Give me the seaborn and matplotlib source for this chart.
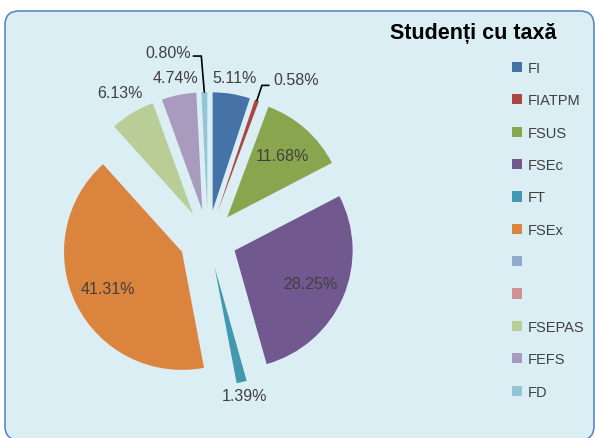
import matplotlib
matplotlib.use("Agg")
import numpy as np
import matplotlib.pyplot as plt
import seaborn as sns
from matplotlib.patches import FancyBboxPatch, Patch

title = "Studenți cu taxă"
categories = ["FI", "FIATPM", "FSUS", "FSEc", "FT", "FSEx", "", "", "FSEPAS", "FEFS", "FD"]
shares = [5.11, 0.58, 11.68, 28.25, 1.39, 41.31, 0.0, 0.0, 6.13, 4.74, 0.80]
colors = ["#4572A7", "#AA4643", "#89A54E", "#71588F", "#4198AF", "#DB843D",
          "#93A9CF", "#D19392", "#B9CD96", "#A99BBD", "#92C5D6"]

sns.set_theme(style="white")
plt.rcParams["font.family"] = ["Liberation Sans", "DejaVu Sans"]
palette = sns.color_palette(colors)

fig = plt.figure(figsize=(5.95, 4.39), dpi=100)
ax = fig.add_axes([0, 0, 1, 1])

# background panel
panel = FancyBboxPatch((5, 12), 589, 429, boxstyle="round,pad=0,rounding_size=14",
                       fc="#DBEEF4", ec="#5A8AC6", lw=1.2, zorder=0)
ax.add_patch(panel)

shown = [i for i, v in enumerate(shares) if v > 0]
vals = [shares[i] for i in shown]
cols = [palette[i] for i in shown]
names = [categories[i] for i in shown]

# pixel-like coords with y pointing down, so counterclock in data = clockwise on screen
wedges, _, autotexts = ax.pie(vals, colors=cols, explode=[29] * len(vals),
                              startangle=-90, counterclock=True, radius=118,
                              center=(208, 240), autopct="%.2f%%", pctdistance=0.7,
                              wedgeprops=dict(linewidth=0),
                              textprops=dict(fontsize=11.5, color="#404040"))

outside = {"FI": 1.14, "FT": 1.12, "FSEPAS": 1.2, "FEFS": 1.15}
leader = {"FIATPM": (39, -21), "FD": (-36, -40)}

for w, t, n in zip(wedges, autotexts, names):
    th = np.deg2rad((w.theta1 + w.theta2) / 2)
    cx, cy = w.center
    if n in outside:
        k = outside[n] * w.r
        t.set_position((cx + k * np.cos(th), cy + k * np.sin(th)))
    elif n in leader:
        tx, ty = cx + w.r * np.cos(th), cy + w.r * np.sin(th)
        dx, dy = leader[n]
        lx, ly = tx + dx, ty + dy
        t.set_position((lx, ly))
        if dx > 0:
            xs = [tx, lx - 34, lx - 27]
            ys = [ty, ly + 6, ly + 6]
        else:
            xs = [tx, lx + 33, lx + 25]
            ys = [ty, ly + 4, ly + 4]
        ax.plot(xs, ys, color="black", lw=1.2)

ax.text(473, 33, title, ha="center", va="center", fontsize=15.5,
        fontweight="bold", color="black")

handles = [Patch(facecolor=c, edgecolor="none") for c in palette]
leg = ax.legend(handles, categories, loc="upper left", bbox_to_anchor=(512, 62),
                bbox_transform=ax.transData, frameon=False, fontsize=10.5,
                handlelength=0.7, handleheight=0.7, handletextpad=0.4,
                labelspacing=1.26, borderpad=0, borderaxespad=0)
for txt in leg.get_texts():
    txt.set_color("#404040")

ax.set_xlim(0, 595)
ax.set_ylim(439, 0)
ax.set_aspect("auto")
ax.axis("off")

fig.savefig("out.png", dpi=100, facecolor="white")
